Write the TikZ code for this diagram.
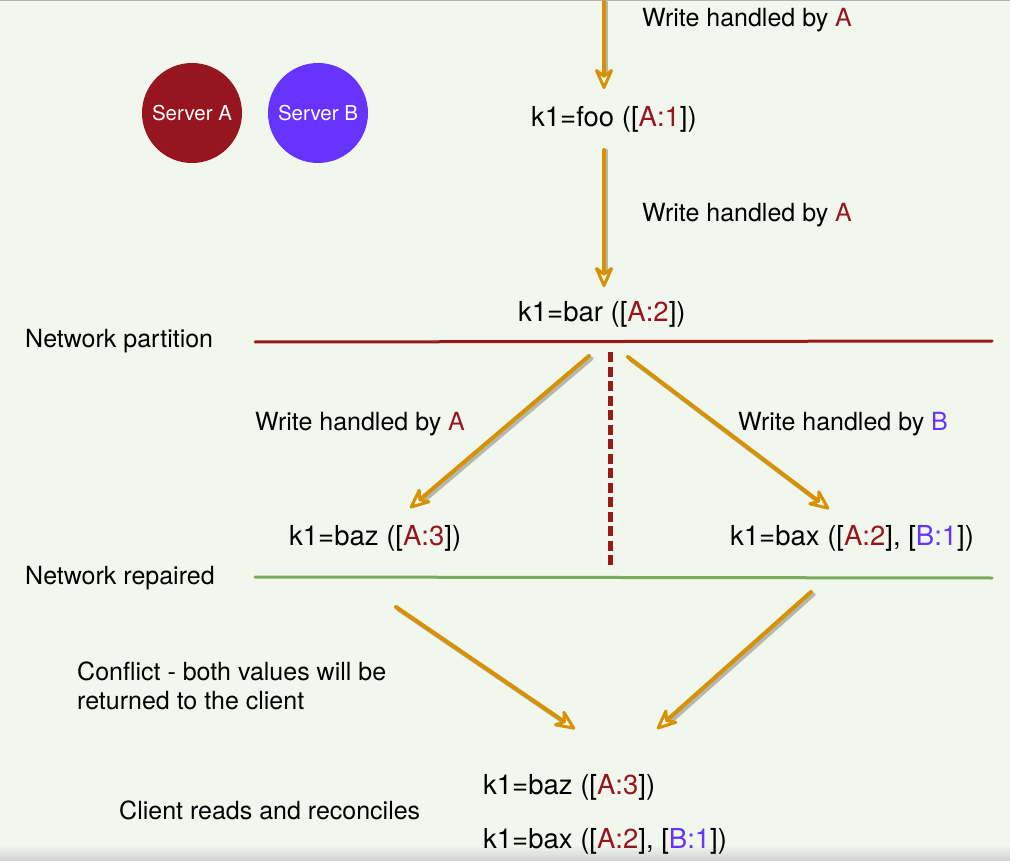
\documentclass[tikz,border=0pt]{standalone}
\usepackage{fontspec}
\setmainfont{TeX Gyre Heros}
\usetikzlibrary{arrows.meta}
\definecolor{bg}{HTML}{F1F7EC}
\definecolor{sA}{HTML}{97151F}
\definecolor{sB}{HTML}{6633FF}
\definecolor{arr}{HTML}{D69104}
\definecolor{shd}{HTML}{B4B8B0}
\definecolor{part}{HTML}{9A1B15}
\definecolor{rep}{HTML}{7BAA5C}
\tikzset{
  lbl/.style={anchor=base west, inner sep=0pt, font=\fontsize{25}{30}\selectfont},
  val/.style={anchor=base west, inner sep=0pt, font=\fontsize{27.5}{33}\selectfont},
  srv/.style={circle, minimum size=100pt, inner sep=0pt, text=white, font=\fontsize{20.5}{24}\selectfont},
  flow/.style={draw=arr, line width=4pt, line cap=round, -{Stealth[open, length=25pt, width=22pt, inset=8pt, line width=3pt, round]}},
  shadow/.style={draw=shd, line width=4pt, line cap=round, shorten >=18pt},
}
\newcommand{\ra}[1]{\textcolor{sA}{#1}}
\newcommand{\rb}[1]{\textcolor{sB}{#1}}
\begin{document}
\begin{tikzpicture}[x=1pt, y=-1pt]
\fill[bg] (0,0) rectangle (1010,861);
\useasboundingbox (0,0) rectangle (1010,861);
\draw[gray!60, line width=1pt] (0,0.5) -- (1010,0.5);
% bottom shade
\shade[top color=bg, bottom color=black!18] (0,845) rectangle (1010,861);

% servers
\node[srv, fill=sA] (srvA) at (192,113) {Server A};
\node[srv, fill=sB] (srvB) at (318,113) {Server B};

% texts
\node[lbl] (w1) at (642,27) {Write handled by \ra{A}};
\node[val] (foo) at (531,127) {k1=foo ([\ra{A:1}])};
\node[lbl] (w2) at (642,222) {Write handled by \ra{A}};
\node[val] (bar) at (518,321) {k1=bar ([\ra{A:2}])};
\node[lbl] (np) at (25,347) {Network partition};
\node[lbl] (w3) at (255,430) {Write handled by \ra{A}};
\node[lbl] (w4) at (738,430) {Write handled by \rb{B}};
\node[val] (baz) at (289,545) {k1=baz ([\ra{A:3}])};
\node[val] (bax) at (730,545) {k1=bax ([\ra{A:2}], [\rb{B:1}])};
\node[lbl] (nr) at (25,584) {Network repaired};
\node[lbl] (c1) at (77,680) {Conflict - both values will be};
\node[lbl] (c2) at (77,709) {returned to the client};
\node[val] (baz2) at (483,794) {k1=baz ([\ra{A:3}])};
\node[lbl] (cr) at (119,819) {Client reads and reconciles};
\node[val] (bax2) at (483,848) {k1=bax ([\ra{A:2}], [\rb{B:1}])};

% coordinates
\coordinate (a1s) at (604,2);   \coordinate (a1e) at (604,89);
\coordinate (a2s) at (604,150); \coordinate (a2e) at (604,287);
\coordinate (a3s) at (589,356); \coordinate (a3e) at (410,508);
\coordinate (a4s) at (628,357); \coordinate (a4e) at (829,509);
\coordinate (a5s) at (396,607); \coordinate (a5e) at (575,729);
\coordinate (a6s) at (811,592); \coordinate (a6e) at (657,729);
\coordinate (pl) at (255,342); \coordinate (pr) at (992,341);
\coordinate (rl) at (255,577); \coordinate (rr) at (992,578);
\coordinate (dt) at (610,352); \coordinate (db) at (610,566);

% lines
\draw[part, line width=3pt, line cap=round] (pl) -- (pr);
\draw[rep, line width=3pt, line cap=round] (rl) -- (rr);
\draw[part, line width=5pt, dash pattern=on 10pt off 4.5pt] (dt) -- (db);

% arrow shadows
\foreach \s/\e in {a3s/a3e, a4s/a4e, a5s/a5e, a6s/a6e}
  \draw[shadow, transform canvas={shift={(2.5pt,-2.5pt)}}] (\s) -- (\e);
\foreach \s/\e in {a1s/a1e, a2s/a2e}
  \draw[shadow, line width=3pt, transform canvas={shift={(2pt,0pt)}}] (\s) -- (\e);

% arrows
\foreach \s/\e in {a1s/a1e, a2s/a2e, a3s/a3e, a4s/a4e, a5s/a5e, a6s/a6e}
  \draw[flow] (\s) -- (\e);
\end{tikzpicture}
\end{document}
